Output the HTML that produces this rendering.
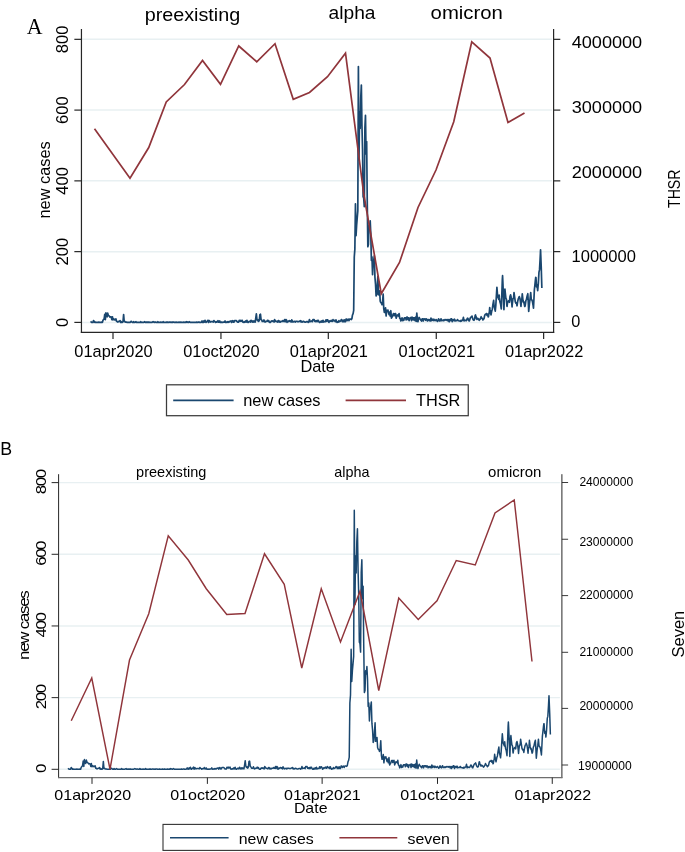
<!DOCTYPE html>
<html lang="en">
<head>
<meta charset="utf-8">
<title>New cases vs THSR and Seven</title>
<style>
html,body{margin:0;padding:0;background:#fff;}
body{width:685px;height:852px;overflow:hidden;}
svg{display:block;will-change:transform;}
text{white-space:pre;}
</style>
</head>
<body>
<svg width="685" height="852" viewBox="0 0 685 852">
<rect x="0" y="0" width="685" height="852" fill="#ffffff"/>
<g id="panelA">
<line x1="81.95" y1="322.40" x2="552.00" y2="322.40" stroke="#e8f0f2" stroke-width="1.50"/>
<line x1="81.95" y1="251.63" x2="552.00" y2="251.63" stroke="#e8f0f2" stroke-width="1.50"/>
<line x1="81.95" y1="180.87" x2="552.00" y2="180.87" stroke="#e8f0f2" stroke-width="1.50"/>
<line x1="81.95" y1="110.10" x2="552.00" y2="110.10" stroke="#e8f0f2" stroke-width="1.50"/>
<line x1="81.95" y1="39.34" x2="552.00" y2="39.34" stroke="#e8f0f2" stroke-width="1.50"/>
<path d="M90.58,321.34 L91.17,322.05 L91.76,322.40 L92.35,322.40 L92.94,322.40 L93.53,320.63 L94.12,321.34 L94.71,322.40 L95.30,322.05 L95.89,322.40 L96.48,322.40 L97.07,322.40 L97.66,322.40 L98.25,322.40 L98.84,322.05 L99.43,322.40 L100.02,322.40 L100.61,322.40 L101.20,322.40 L101.79,322.05 L102.38,322.40 L102.97,320.28 L103.56,319.57 L104.15,318.86 L104.74,314.26 L105.33,319.57 L105.92,312.85 L106.51,316.03 L107.10,316.74 L107.69,313.20 L108.28,315.32 L108.87,315.68 L109.46,316.38 L110.05,317.09 L110.64,316.74 L111.23,317.09 L111.82,319.57 L112.41,316.74 L113.00,319.92 L113.59,318.86 L114.18,319.22 L114.77,319.92 L115.36,319.57 L115.95,318.86 L116.54,321.34 L117.13,321.34 L117.72,322.05 L118.31,321.69 L118.90,321.34 L119.49,321.34 L120.08,320.63 L120.67,322.40 L121.26,321.69 L121.85,322.40 L122.44,322.40 L123.03,321.34 L123.62,314.62 L124.21,321.69 L124.80,321.34 L125.39,322.05 L125.98,322.05 L126.57,322.05 L127.16,322.40 L127.75,322.40 L128.34,322.40 L128.93,322.40 L129.52,322.40 L130.11,322.40 L130.70,321.69 L131.29,321.34 L131.88,322.05 L132.47,322.40 L133.06,322.40 L133.65,321.69 L134.24,322.40 L134.83,322.40 L135.42,322.05 L136.01,321.69 L136.60,322.40 L137.19,322.40 L137.78,322.40 L138.37,322.40 L138.96,322.40 L139.55,322.40 L140.14,322.40 L140.73,321.69 L141.32,322.40 L141.91,322.40 L142.50,322.40 L143.08,322.40 L143.67,322.40 L144.26,322.05 L144.85,321.69 L145.44,322.40 L146.03,322.40 L146.62,322.05 L147.21,322.40 L147.80,322.05 L148.39,322.40 L148.98,322.05 L149.57,322.40 L150.16,322.40 L150.75,322.40 L151.34,322.40 L151.93,322.40 L152.52,322.05 L153.11,321.69 L153.70,322.05 L154.29,322.40 L154.88,322.05 L155.47,322.05 L156.06,322.40 L156.65,322.40 L157.24,322.40 L157.83,321.69 L158.42,322.40 L159.01,322.40 L159.60,322.40 L160.19,322.40 L160.78,322.05 L161.37,322.40 L161.96,322.40 L162.55,322.40 L163.14,321.69 L163.73,322.40 L164.32,322.40 L164.91,322.40 L165.50,322.40 L166.09,322.40 L166.68,322.05 L167.27,322.40 L167.86,322.05 L168.45,322.40 L169.04,322.40 L169.63,322.05 L170.22,322.05 L170.81,322.40 L171.40,322.40 L171.99,322.05 L172.58,322.40 L173.17,322.05 L173.76,322.05 L174.35,322.40 L174.94,322.40 L175.53,322.40 L176.12,322.05 L176.71,322.40 L177.30,322.40 L177.89,322.40 L178.48,322.40 L179.07,322.05 L179.66,322.40 L180.25,322.40 L180.84,322.05 L181.43,322.40 L182.02,322.40 L182.61,322.40 L183.20,322.40 L183.79,322.05 L184.38,322.40 L184.97,322.40 L185.56,322.05 L186.15,322.40 L186.74,321.69 L187.33,322.05 L187.92,322.40 L188.51,322.40 L189.10,321.69 L189.69,322.05 L190.28,322.40 L190.87,322.40 L191.46,322.40 L192.05,322.40 L192.64,322.40 L193.23,322.40 L193.82,322.40 L194.41,322.40 L195.00,322.40 L195.59,322.40 L196.18,322.40 L196.77,322.05 L197.36,322.40 L197.95,322.40 L198.54,322.05 L199.13,322.05 L199.72,322.40 L200.31,322.40 L200.90,322.40 L201.49,322.05 L202.07,320.98 L202.66,322.40 L203.25,322.40 L203.84,320.98 L204.43,322.05 L205.02,320.28 L205.61,322.05 L206.20,322.40 L206.79,321.34 L207.38,321.34 L207.97,320.28 L208.56,322.40 L209.15,320.63 L209.74,321.34 L210.33,322.05 L210.92,321.69 L211.51,321.69 L212.10,321.69 L212.69,321.69 L213.28,322.05 L213.87,320.63 L214.46,321.34 L215.05,321.69 L215.64,322.40 L216.23,321.69 L216.82,322.05 L217.41,321.69 L218.00,320.63 L218.59,322.05 L219.18,322.05 L219.77,320.98 L220.36,322.40 L220.95,322.40 L221.54,322.05 L222.13,322.40 L222.72,322.40 L223.31,322.05 L223.90,322.05 L224.49,322.05 L225.08,320.98 L225.67,322.40 L226.26,322.40 L226.85,322.05 L227.44,321.69 L228.03,322.40 L228.62,321.69 L229.21,322.05 L229.80,321.34 L230.39,321.34 L230.98,320.98 L231.57,322.40 L232.16,320.98 L232.75,320.63 L233.34,322.05 L233.93,322.05 L234.52,320.63 L235.11,320.63 L235.70,320.63 L236.29,320.63 L236.88,321.34 L237.47,322.05 L238.06,322.05 L238.65,322.05 L239.24,320.28 L239.83,320.98 L240.42,320.28 L241.01,321.34 L241.60,320.63 L242.19,320.28 L242.78,322.05 L243.37,322.05 L243.96,322.40 L244.55,321.69 L245.14,322.05 L245.73,320.98 L246.32,322.05 L246.91,320.28 L247.50,322.05 L248.09,322.40 L248.68,322.05 L249.27,321.34 L249.86,321.34 L250.45,322.05 L251.04,320.28 L251.63,321.34 L252.22,322.05 L252.81,320.98 L253.40,322.05 L253.99,320.98 L254.58,321.69 L255.17,322.05 L255.76,318.15 L256.35,313.91 L256.94,319.22 L257.53,320.63 L258.12,319.92 L258.71,321.34 L259.30,320.28 L259.89,314.62 L260.48,314.26 L261.06,319.57 L261.65,319.92 L262.24,321.34 L262.83,321.34 L263.42,321.34 L264.01,319.92 L264.60,321.69 L265.19,322.05 L265.78,321.34 L266.37,321.34 L266.96,321.34 L267.55,320.28 L268.14,321.34 L268.73,320.63 L269.32,322.05 L269.91,322.40 L270.50,322.40 L271.09,321.34 L271.68,320.98 L272.27,321.34 L272.86,320.98 L273.45,321.34 L274.04,322.05 L274.63,319.57 L275.22,320.63 L275.81,321.34 L276.40,321.34 L276.99,321.69 L277.58,322.05 L278.17,320.63 L278.76,320.63 L279.35,322.05 L279.94,321.34 L280.53,322.05 L281.12,321.34 L281.71,321.34 L282.30,321.34 L282.89,320.63 L283.48,321.34 L284.07,321.34 L284.66,319.57 L285.25,321.69 L285.84,319.57 L286.43,319.92 L287.02,322.40 L287.61,321.34 L288.20,321.69 L288.79,320.98 L289.38,320.63 L289.97,321.34 L290.56,320.98 L291.15,322.05 L291.74,319.92 L292.33,320.98 L292.92,322.05 L293.51,321.69 L294.10,321.69 L294.69,321.34 L295.28,322.05 L295.87,321.34 L296.46,321.34 L297.05,321.34 L297.64,321.69 L298.23,321.69 L298.82,321.69 L299.41,321.34 L300.00,320.98 L300.59,320.63 L301.18,322.05 L301.77,321.34 L302.36,322.05 L302.95,321.69 L303.54,321.34 L304.13,321.69 L304.72,322.05 L305.31,322.05 L305.90,322.05 L306.49,321.69 L307.08,321.69 L307.67,321.69 L308.26,322.40 L308.85,321.69 L309.44,319.57 L310.03,321.69 L310.62,321.34 L311.21,321.34 L311.80,320.98 L312.39,321.69 L312.98,319.57 L313.57,319.92 L314.16,319.57 L314.75,321.34 L315.34,320.98 L315.93,321.69 L316.52,320.63 L317.11,321.69 L317.70,320.28 L318.29,320.28 L318.88,321.69 L319.47,322.40 L320.05,322.40 L320.64,321.34 L321.23,322.05 L321.82,320.98 L322.41,322.05 L323.00,320.28 L323.59,322.05 L324.18,321.69 L324.77,321.69 L325.36,321.69 L325.95,319.92 L326.54,321.34 L327.13,319.92 L327.72,319.92 L328.31,321.34 L328.90,322.40 L329.49,320.98 L330.08,321.34 L330.67,320.98 L331.26,320.28 L331.85,321.34 L332.44,321.34 L333.03,319.57 L333.62,320.63 L334.21,320.98 L334.80,320.28 L335.39,321.69 L335.98,319.92 L336.57,321.69 L337.16,322.40 L337.75,321.69 L338.34,322.05 L338.93,320.63 L339.52,321.69 L340.11,321.34 L340.70,320.98 L341.29,319.57 L341.88,319.92 L342.47,321.69 L343.06,320.28 L343.65,321.69 L344.24,319.92 L344.83,321.69 L345.42,321.69 L346.01,319.22 L346.60,319.22 L347.19,320.63 L347.78,319.57 L348.37,319.22 L348.96,320.63 L349.55,319.22 L350.14,319.22 L350.73,319.22 L351.32,319.57 L351.91,318.51 L352.50,314.97 L353.09,313.55 L353.68,310.37 L354.27,256.94 L354.86,249.16 L355.45,203.87 L356.04,235.71 L356.63,225.10 L357.22,218.02 L357.81,210.94 L358.40,66.58 L358.99,159.64 L359.58,111.87 L360.17,128.50 L360.76,97.72 L361.35,84.98 L361.94,125.32 L362.53,149.02 L363.12,196.79 L363.71,198.21 L364.30,206.70 L364.89,128.15 L365.48,115.41 L366.07,153.98 L366.66,141.59 L367.25,201.04 L367.84,246.68 L368.43,244.56 L369.02,225.10 L369.61,228.28 L370.20,220.85 L370.79,233.59 L371.38,260.48 L371.97,256.94 L372.56,274.63 L373.15,262.25 L373.74,260.48 L374.33,255.88 L374.92,277.11 L375.51,283.83 L376.10,295.86 L376.69,294.45 L377.28,285.60 L377.87,276.40 L378.45,294.80 L379.04,294.09 L379.63,290.91 L380.22,301.17 L380.81,302.59 L381.40,302.94 L381.99,304.71 L382.58,301.88 L383.17,294.09 L383.76,308.60 L384.35,312.49 L384.94,312.14 L385.53,307.89 L386.12,316.03 L386.71,310.37 L387.30,311.08 L387.89,310.02 L388.48,312.49 L389.07,314.62 L389.66,312.14 L390.25,316.03 L390.84,310.72 L391.43,318.15 L392.02,317.09 L392.61,316.03 L393.20,313.91 L393.79,313.55 L394.38,315.68 L394.97,313.91 L395.56,313.55 L396.15,318.15 L396.74,316.38 L397.33,314.97 L397.92,315.32 L398.51,316.03 L399.10,313.55 L399.69,318.15 L400.28,318.51 L400.87,320.98 L401.46,319.57 L402.05,317.80 L402.64,320.63 L403.23,319.22 L403.82,320.28 L404.41,317.80 L405.00,317.80 L405.59,317.80 L406.18,319.92 L406.77,317.09 L407.36,317.09 L407.95,319.57 L408.54,317.80 L409.13,320.63 L409.72,318.15 L410.31,318.15 L410.90,317.45 L411.49,320.63 L412.08,317.09 L412.67,319.57 L413.26,317.80 L413.85,319.92 L414.44,317.80 L415.03,320.63 L415.62,317.09 L416.21,321.34 L416.80,313.20 L417.39,319.22 L417.98,321.69 L418.57,318.86 L419.16,317.45 L419.75,318.86 L420.34,319.22 L420.93,320.28 L421.52,320.98 L422.11,318.86 L422.70,318.86 L423.29,320.98 L423.88,318.86 L424.47,319.22 L425.06,318.86 L425.65,320.28 L426.24,318.86 L426.83,319.22 L427.42,320.98 L428.01,319.92 L428.60,319.57 L429.19,320.63 L429.78,319.57 L430.37,320.98 L430.96,318.15 L431.55,320.63 L432.14,319.22 L432.73,319.57 L433.32,320.63 L433.91,319.22 L434.50,320.28 L435.09,320.63 L435.68,319.92 L436.27,319.57 L436.86,320.63 L437.44,321.34 L438.03,320.63 L438.62,318.86 L439.21,320.28 L439.80,320.98 L440.39,319.92 L440.98,318.86 L441.57,320.63 L442.16,320.28 L442.75,320.63 L443.34,319.92 L443.93,320.63 L444.52,319.92 L445.11,319.57 L445.70,319.92 L446.29,320.28 L446.88,319.57 L447.47,319.57 L448.06,320.98 L448.65,319.57 L449.24,321.69 L449.83,319.57 L450.42,320.63 L451.01,318.86 L451.60,318.86 L452.19,321.69 L452.78,319.92 L453.37,319.57 L453.96,320.63 L454.55,319.22 L455.14,320.98 L455.73,320.63 L456.32,320.63 L456.91,320.63 L457.50,319.57 L458.09,320.63 L458.68,320.63 L459.27,320.98 L459.86,320.98 L460.45,321.34 L461.04,320.28 L461.63,320.98 L462.22,320.28 L462.81,319.92 L463.40,317.45 L463.99,320.98 L464.58,319.92 L465.17,320.28 L465.76,320.63 L466.35,320.63 L466.94,319.22 L467.53,318.15 L468.12,318.86 L468.71,320.63 L469.30,320.98 L470.01,318.86 L470.48,317.65 L471.07,316.95 L471.66,316.73 L471.95,316.03 L472.25,317.08 L472.84,319.05 L473.43,320.02 L473.96,320.28 L474.61,319.13 L475.20,315.29 L475.49,314.97 L475.79,316.37 L476.38,317.91 L476.97,319.36 L477.20,318.86 L477.56,318.31 L478.15,318.68 L478.74,319.57 L479.21,320.28 L479.92,319.51 L480.51,318.58 L481.16,316.74 L481.69,318.04 L482.28,318.42 L482.87,319.96 L483.16,319.57 L483.46,319.15 L484.05,318.54 L484.64,315.56 L485.23,314.34 L485.82,314.50 L486.41,313.55 L487.00,315.31 L487.59,314.02 L488.18,316.91 L488.41,316.74 L488.77,314.69 L489.36,312.04 L489.71,307.54 L489.95,309.39 L490.54,312.36 L491.01,314.97 L491.72,311.09 L492.31,309.19 L492.90,304.63 L493.66,300.46 L494.08,305.80 L494.67,308.21 L495.26,311.08 L495.85,304.80 L496.44,294.83 L496.91,287.37 L497.61,296.15 L498.26,297.99 L498.79,299.38 L499.15,295.16 L499.38,297.94 L499.97,302.05 L500.56,303.93 L501.27,308.95 L501.74,296.67 L502.33,279.46 L502.57,275.69 L502.92,283.20 L503.51,298.04 L503.93,309.66 L504.69,291.36 L504.93,289.14 L505.28,292.92 L505.87,298.20 L506.46,299.45 L506.82,305.06 L507.05,306.29 L507.64,302.09 L508.23,301.19 L508.76,300.82 L509.41,302.27 L510.00,296.43 L510.59,294.89 L511.01,296.57 L511.77,303.33 L512.07,306.83 L512.36,303.53 L512.95,298.61 L513.54,298.45 L514.01,292.68 L514.72,297.55 L515.31,301.88 L515.90,303.20 L516.49,302.89 L517.02,305.77 L517.67,301.51 L518.26,298.83 L518.85,297.75 L519.26,296.57 L520.03,298.80 L520.62,303.51 L520.97,306.48 L521.21,303.18 L521.80,300.02 L522.27,293.74 L522.98,300.30 L523.57,302.47 L523.87,301.88 L524.16,303.50 L524.75,306.50 L525.16,305.77 L525.93,300.49 L526.52,299.28 L527.11,296.14 L527.82,293.74 L528.29,302.52 L528.70,311.43 L529.47,303.35 L530.06,298.81 L530.71,292.68 L531.24,299.44 L531.77,299.75 L532.42,301.41 L533.01,304.73 L533.48,308.25 L534.37,289.85 L534.78,286.05 L535.37,280.37 L535.72,277.46 L535.96,277.53 L536.55,286.86 L537.14,285.06 L537.67,290.56 L538.32,283.62 L538.97,272.16 L539.50,269.90 L540.09,259.67 L540.56,249.86 L541.27,268.17 L541.86,288.08" fill="none" stroke="#1a476f" stroke-width="1.7" stroke-linejoin="round"/>
<path d="M94.50,128.75 L130.00,178.25 L148.75,147.50 L166.25,102.00 L184.50,84.50 L202.50,60.50 L220.50,84.25 L238.75,46.00 L256.75,61.75 L275.00,43.75 L293.25,99.25 L309.50,92.50 L327.50,76.75 L345.50,53.25 L363.90,195.00 L381.25,293.75 L399.50,262.50 L418.00,207.50 L436.00,170.00 L453.75,121.75 L471.75,41.75 L490.00,58.00 L508.00,122.50 L524.50,113.00" fill="none" stroke="#90353b" stroke-width="1.7" stroke-linejoin="miter"/>
<line x1="81.45" y1="28.90" x2="81.45" y2="332.90" stroke="#262626" stroke-width="1.20"/>
<line x1="553.60" y1="28.90" x2="553.60" y2="332.90" stroke="#262626" stroke-width="1.20"/>
<line x1="80.85" y1="332.30" x2="554.20" y2="332.30" stroke="#262626" stroke-width="1.20"/>
<line x1="74.35" y1="322.40" x2="81.45" y2="322.40" stroke="#262626" stroke-width="1.20"/>
<line x1="553.60" y1="322.40" x2="560.30" y2="322.40" stroke="#262626" stroke-width="1.20"/>
<line x1="74.35" y1="251.63" x2="81.45" y2="251.63" stroke="#262626" stroke-width="1.20"/>
<line x1="553.60" y1="251.63" x2="560.30" y2="251.63" stroke="#262626" stroke-width="1.20"/>
<line x1="74.35" y1="180.87" x2="81.45" y2="180.87" stroke="#262626" stroke-width="1.20"/>
<line x1="553.60" y1="180.87" x2="560.30" y2="180.87" stroke="#262626" stroke-width="1.20"/>
<line x1="74.35" y1="110.10" x2="81.45" y2="110.10" stroke="#262626" stroke-width="1.20"/>
<line x1="553.60" y1="110.10" x2="560.30" y2="110.10" stroke="#262626" stroke-width="1.20"/>
<line x1="74.35" y1="39.34" x2="81.45" y2="39.34" stroke="#262626" stroke-width="1.20"/>
<line x1="553.60" y1="39.34" x2="560.30" y2="39.34" stroke="#262626" stroke-width="1.20"/>
<line x1="113.00" y1="332.30" x2="113.00" y2="338.90" stroke="#262626" stroke-width="1.20"/>
<line x1="220.95" y1="332.30" x2="220.95" y2="338.90" stroke="#262626" stroke-width="1.20"/>
<line x1="328.31" y1="332.30" x2="328.31" y2="338.90" stroke="#262626" stroke-width="1.20"/>
<line x1="436.27" y1="332.30" x2="436.27" y2="338.90" stroke="#262626" stroke-width="1.20"/>
<line x1="543.63" y1="332.30" x2="543.63" y2="338.90" stroke="#262626" stroke-width="1.20"/>
<text transform="translate(68.00,322.40) rotate(-90)" font-family="'Liberation Sans', Arial, sans-serif" font-size="16.60" text-anchor="middle" fill="#000">0</text>
<text transform="translate(68.00,251.63) rotate(-90)" font-family="'Liberation Sans', Arial, sans-serif" font-size="16.60" text-anchor="middle" fill="#000">200</text>
<text transform="translate(68.00,180.87) rotate(-90)" font-family="'Liberation Sans', Arial, sans-serif" font-size="16.60" text-anchor="middle" fill="#000">400</text>
<text transform="translate(68.00,110.10) rotate(-90)" font-family="'Liberation Sans', Arial, sans-serif" font-size="16.60" text-anchor="middle" fill="#000">600</text>
<text transform="translate(68.00,39.34) rotate(-90)" font-family="'Liberation Sans', Arial, sans-serif" font-size="16.60" text-anchor="middle" fill="#000">800</text>
<text transform="translate(50.40,179.90) rotate(-90)" font-family="'Liberation Sans', Arial, sans-serif" font-size="16.60" text-anchor="middle" fill="#000" textLength="77.30" lengthAdjust="spacingAndGlyphs">new cases</text>
<text x="113.50" y="356.60" font-family="'Liberation Sans', Arial, sans-serif" font-size="16.30" text-anchor="middle" fill="#000" textLength="78.31" lengthAdjust="spacingAndGlyphs">01apr2020</text>
<text x="221.45" y="356.60" font-family="'Liberation Sans', Arial, sans-serif" font-size="16.30" text-anchor="middle" fill="#000" textLength="76.49" lengthAdjust="spacingAndGlyphs">01oct2020</text>
<text x="328.81" y="356.60" font-family="'Liberation Sans', Arial, sans-serif" font-size="16.30" text-anchor="middle" fill="#000" textLength="78.31" lengthAdjust="spacingAndGlyphs">01apr2021</text>
<text x="436.77" y="356.60" font-family="'Liberation Sans', Arial, sans-serif" font-size="16.30" text-anchor="middle" fill="#000" textLength="76.49" lengthAdjust="spacingAndGlyphs">01oct2021</text>
<text x="544.13" y="356.60" font-family="'Liberation Sans', Arial, sans-serif" font-size="16.30" text-anchor="middle" fill="#000" textLength="78.31" lengthAdjust="spacingAndGlyphs">01apr2022</text>
<text x="317.70" y="372.30" font-family="'Liberation Sans', Arial, sans-serif" font-size="16.40" text-anchor="middle" fill="#000" textLength="34.59" lengthAdjust="spacingAndGlyphs">Date</text>
<rect x="166.5" y="384.8" width="301.75" height="30.9" fill="#fff" stroke="#3c3c3c" stroke-width="1.25"/>
<line x1="173.20" y1="400.40" x2="233.60" y2="400.40" stroke="#1a476f" stroke-width="1.70"/>
<text x="243.20" y="405.90" font-family="'Liberation Sans', Arial, sans-serif" font-size="16.50" text-anchor="start" fill="#000" textLength="77.38" lengthAdjust="spacingAndGlyphs">new cases</text>
<line x1="345.60" y1="400.40" x2="406.00" y2="400.40" stroke="#90353b" stroke-width="1.70"/>
<text x="416.00" y="405.90" font-family="'Liberation Sans', Arial, sans-serif" font-size="16.50" text-anchor="start" fill="#000" textLength="44.40" lengthAdjust="spacingAndGlyphs">THSR</text>
<text x="571.70" y="48.10" font-family="'Liberation Sans', Arial, sans-serif" font-size="16.30" text-anchor="start" fill="#000" textLength="70.50" lengthAdjust="spacingAndGlyphs">4000000</text>
<text x="571.70" y="112.80" font-family="'Liberation Sans', Arial, sans-serif" font-size="16.30" text-anchor="start" fill="#000" textLength="70.50" lengthAdjust="spacingAndGlyphs">3000000</text>
<text x="571.70" y="177.70" font-family="'Liberation Sans', Arial, sans-serif" font-size="16.30" text-anchor="start" fill="#000" textLength="70.50" lengthAdjust="spacingAndGlyphs">2000000</text>
<text x="571.50" y="261.60" font-family="'Liberation Sans', Arial, sans-serif" font-size="16.30" text-anchor="start" fill="#000" textLength="64.40" lengthAdjust="spacingAndGlyphs">1000000</text>
<text x="571.30" y="326.70" font-family="'Liberation Sans', Arial, sans-serif" font-size="16.30" text-anchor="start" fill="#000">0</text>
<text transform="translate(679.60,188.75) rotate(-90)" font-family="'Liberation Sans', Arial, sans-serif" font-size="16.80" text-anchor="middle" fill="#000" textLength="38.50" lengthAdjust="spacingAndGlyphs">THSR</text>
<text x="26.70" y="33.75" font-family="'Liberation Serif', 'Times New Roman', serif" font-size="22.20" text-anchor="start" fill="#000" textLength="15.80" lengthAdjust="spacingAndGlyphs">A</text>
<text x="144.70" y="20.60" font-family="'Liberation Sans', Arial, sans-serif" font-size="18.60" text-anchor="start" fill="#000" textLength="95.50" lengthAdjust="spacingAndGlyphs">preexisting</text>
<text x="328.60" y="19.20" font-family="'Liberation Sans', Arial, sans-serif" font-size="18.30" text-anchor="start" fill="#000" textLength="46.90" lengthAdjust="spacingAndGlyphs">alpha</text>
<text x="430.60" y="18.90" font-family="'Liberation Sans', Arial, sans-serif" font-size="18.10" text-anchor="start" fill="#000" textLength="72.30" lengthAdjust="spacingAndGlyphs">omicron</text>
</g>
<g id="panelB">
<line x1="59.10" y1="769.30" x2="559.90" y2="769.30" stroke="#e8f0f2" stroke-width="1.40"/>
<line x1="59.10" y1="697.63" x2="559.90" y2="697.63" stroke="#e8f0f2" stroke-width="1.40"/>
<line x1="59.10" y1="625.96" x2="559.90" y2="625.96" stroke="#e8f0f2" stroke-width="1.40"/>
<line x1="59.10" y1="554.29" x2="559.90" y2="554.29" stroke="#e8f0f2" stroke-width="1.40"/>
<line x1="59.10" y1="482.62" x2="559.90" y2="482.62" stroke="#e8f0f2" stroke-width="1.40"/>
<path d="M68.04,768.22 L68.67,768.94 L69.30,769.30 L69.93,769.30 L70.56,769.30 L71.19,767.51 L71.82,768.22 L72.45,769.30 L73.09,768.94 L73.72,769.30 L74.35,769.30 L74.98,769.30 L75.61,769.30 L76.24,769.30 L76.87,768.94 L77.50,769.30 L78.13,769.30 L78.76,769.30 L79.39,769.30 L80.02,768.94 L80.65,769.30 L81.28,767.15 L81.91,766.43 L82.54,765.72 L83.17,761.06 L83.80,766.43 L84.43,759.62 L85.06,762.85 L85.69,763.57 L86.33,759.98 L86.96,762.13 L87.59,762.49 L88.22,763.21 L88.85,763.92 L89.48,763.57 L90.11,763.92 L90.74,766.43 L91.37,763.57 L92.00,766.79 L92.63,765.72 L93.26,766.07 L93.89,766.79 L94.52,766.43 L95.15,765.72 L95.78,768.22 L96.41,768.22 L97.04,768.94 L97.67,768.58 L98.31,768.22 L98.94,768.22 L99.57,767.51 L100.20,769.30 L100.83,768.58 L101.46,769.30 L102.09,769.30 L102.72,768.22 L103.35,761.42 L103.98,768.58 L104.61,768.22 L105.24,768.94 L105.87,768.94 L106.50,768.94 L107.13,769.30 L107.76,769.30 L108.39,769.30 L109.02,769.30 L109.65,769.30 L110.28,769.30 L110.91,768.58 L111.55,768.22 L112.18,768.94 L112.81,769.30 L113.44,769.30 L114.07,768.58 L114.70,769.30 L115.33,769.30 L115.96,768.94 L116.59,768.58 L117.22,769.30 L117.85,769.30 L118.48,769.30 L119.11,769.30 L119.74,769.30 L120.37,769.30 L121.00,769.30 L121.63,768.58 L122.26,769.30 L122.89,769.30 L123.53,769.30 L124.16,769.30 L124.79,769.30 L125.42,768.94 L126.05,768.58 L126.68,769.30 L127.31,769.30 L127.94,768.94 L128.57,769.30 L129.20,768.94 L129.83,769.30 L130.46,768.94 L131.09,769.30 L131.72,769.30 L132.35,769.30 L132.98,769.30 L133.61,769.30 L134.24,768.94 L134.87,768.58 L135.50,768.94 L136.13,769.30 L136.77,768.94 L137.40,768.94 L138.03,769.30 L138.66,769.30 L139.29,769.30 L139.92,768.58 L140.55,769.30 L141.18,769.30 L141.81,769.30 L142.44,769.30 L143.07,768.94 L143.70,769.30 L144.33,769.30 L144.96,769.30 L145.59,768.58 L146.22,769.30 L146.85,769.30 L147.48,769.30 L148.11,769.30 L148.75,769.30 L149.38,768.94 L150.01,769.30 L150.64,768.94 L151.27,769.30 L151.90,769.30 L152.53,768.94 L153.16,768.94 L153.79,769.30 L154.42,769.30 L155.05,768.94 L155.68,769.30 L156.31,768.94 L156.94,768.94 L157.57,769.30 L158.20,769.30 L158.83,769.30 L159.46,768.94 L160.09,769.30 L160.72,769.30 L161.35,769.30 L161.99,769.30 L162.62,768.94 L163.25,769.30 L163.88,769.30 L164.51,768.94 L165.14,769.30 L165.77,769.30 L166.40,769.30 L167.03,769.30 L167.66,768.94 L168.29,769.30 L168.92,769.30 L169.55,768.94 L170.18,769.30 L170.81,768.58 L171.44,768.94 L172.07,769.30 L172.70,769.30 L173.33,768.58 L173.96,768.94 L174.60,769.30 L175.23,769.30 L175.86,769.30 L176.49,769.30 L177.12,769.30 L177.75,769.30 L178.38,769.30 L179.01,769.30 L179.64,769.30 L180.27,769.30 L180.90,769.30 L181.53,768.94 L182.16,769.30 L182.79,769.30 L183.42,768.94 L184.05,768.94 L184.68,769.30 L185.31,769.30 L185.94,769.30 L186.57,768.94 L187.21,767.87 L187.84,769.30 L188.47,769.30 L189.10,767.87 L189.73,768.94 L190.36,767.15 L190.99,768.94 L191.62,769.30 L192.25,768.22 L192.88,768.22 L193.51,767.15 L194.14,769.30 L194.77,767.51 L195.40,768.22 L196.03,768.94 L196.66,768.58 L197.29,768.58 L197.92,768.58 L198.55,768.58 L199.19,768.94 L199.82,767.51 L200.45,768.22 L201.08,768.58 L201.71,769.30 L202.34,768.58 L202.97,768.94 L203.60,768.58 L204.23,767.51 L204.86,768.94 L205.49,768.94 L206.12,767.87 L206.75,769.30 L207.38,769.30 L208.01,768.94 L208.64,769.30 L209.27,769.30 L209.90,768.94 L210.53,768.94 L211.16,768.94 L211.79,767.87 L212.43,769.30 L213.06,769.30 L213.69,768.94 L214.32,768.58 L214.95,769.30 L215.58,768.58 L216.21,768.94 L216.84,768.22 L217.47,768.22 L218.10,767.87 L218.73,769.30 L219.36,767.87 L219.99,767.51 L220.62,768.94 L221.25,768.94 L221.88,767.51 L222.51,767.51 L223.14,767.51 L223.77,767.51 L224.41,768.22 L225.04,768.94 L225.67,768.94 L226.30,768.94 L226.93,767.15 L227.56,767.87 L228.19,767.15 L228.82,768.22 L229.45,767.51 L230.08,767.15 L230.71,768.94 L231.34,768.94 L231.97,769.30 L232.60,768.58 L233.23,768.94 L233.86,767.87 L234.49,768.94 L235.12,767.15 L235.75,768.94 L236.38,769.30 L237.01,768.94 L237.65,768.22 L238.28,768.22 L238.91,768.94 L239.54,767.15 L240.17,768.22 L240.80,768.94 L241.43,767.87 L242.06,768.94 L242.69,767.87 L243.32,768.58 L243.95,768.94 L244.58,765.00 L245.21,760.70 L245.84,766.07 L246.47,767.51 L247.10,766.79 L247.73,768.22 L248.36,767.15 L248.99,761.42 L249.62,761.06 L250.26,766.43 L250.89,766.79 L251.52,768.22 L252.15,768.22 L252.78,768.22 L253.41,766.79 L254.04,768.58 L254.67,768.94 L255.30,768.22 L255.93,768.22 L256.56,768.22 L257.19,767.15 L257.82,768.22 L258.45,767.51 L259.08,768.94 L259.71,769.30 L260.34,769.30 L260.97,768.22 L261.60,767.87 L262.24,768.22 L262.87,767.87 L263.50,768.22 L264.13,768.94 L264.76,766.43 L265.39,767.51 L266.02,768.22 L266.65,768.22 L267.28,768.58 L267.91,768.94 L268.54,767.51 L269.17,767.51 L269.80,768.94 L270.43,768.22 L271.06,768.94 L271.69,768.22 L272.32,768.22 L272.95,768.22 L273.58,767.51 L274.21,768.22 L274.85,768.22 L275.48,766.43 L276.11,768.58 L276.74,766.43 L277.37,766.79 L278.00,769.30 L278.63,768.22 L279.26,768.58 L279.89,767.87 L280.52,767.51 L281.15,768.22 L281.78,767.87 L282.41,768.94 L283.04,766.79 L283.67,767.87 L284.30,768.94 L284.93,768.58 L285.56,768.58 L286.19,768.22 L286.82,768.94 L287.45,768.22 L288.09,768.22 L288.72,768.22 L289.35,768.58 L289.98,768.58 L290.61,768.58 L291.24,768.22 L291.87,767.87 L292.50,767.51 L293.13,768.94 L293.76,768.22 L294.39,768.94 L295.02,768.58 L295.65,768.22 L296.28,768.58 L296.91,768.94 L297.54,768.94 L298.17,768.94 L298.80,768.58 L299.43,768.58 L300.06,768.58 L300.70,769.30 L301.33,768.58 L301.96,766.43 L302.59,768.58 L303.22,768.22 L303.85,768.22 L304.48,767.87 L305.11,768.58 L305.74,766.43 L306.37,766.79 L307.00,766.43 L307.63,768.22 L308.26,767.87 L308.89,768.58 L309.52,767.51 L310.15,768.58 L310.78,767.15 L311.41,767.15 L312.04,768.58 L312.67,769.30 L313.31,769.30 L313.94,768.22 L314.57,768.94 L315.20,767.87 L315.83,768.94 L316.46,767.15 L317.09,768.94 L317.72,768.58 L318.35,768.58 L318.98,768.58 L319.61,766.79 L320.24,768.22 L320.87,766.79 L321.50,766.79 L322.13,768.22 L322.76,769.30 L323.39,767.87 L324.02,768.22 L324.65,767.87 L325.28,767.15 L325.92,768.22 L326.55,768.22 L327.18,766.43 L327.81,767.51 L328.44,767.87 L329.07,767.15 L329.70,768.58 L330.33,766.79 L330.96,768.58 L331.59,769.30 L332.22,768.58 L332.85,768.94 L333.48,767.51 L334.11,768.58 L334.74,768.22 L335.37,767.87 L336.00,766.43 L336.63,766.79 L337.26,768.58 L337.89,767.15 L338.53,768.58 L339.16,766.79 L339.79,768.58 L340.42,768.58 L341.05,766.07 L341.68,766.07 L342.31,767.51 L342.94,766.43 L343.57,766.07 L344.20,767.51 L344.83,766.07 L345.46,766.07 L346.09,766.07 L346.72,766.43 L347.35,765.36 L347.98,761.77 L348.61,760.34 L349.24,757.12 L349.87,703.01 L350.50,695.12 L351.14,649.25 L351.77,681.50 L352.40,670.75 L353.03,663.59 L353.66,656.42 L354.29,510.21 L354.92,604.46 L355.55,556.08 L356.18,572.92 L356.81,541.75 L357.44,528.85 L358.07,569.70 L358.70,593.71 L359.33,642.09 L359.96,643.52 L360.59,652.12 L361.22,572.57 L361.85,559.67 L362.48,598.73 L363.11,586.18 L363.75,646.39 L364.38,692.61 L365.01,690.46 L365.64,670.75 L366.27,673.98 L366.90,666.45 L367.53,679.35 L368.16,706.59 L368.79,703.01 L369.42,720.92 L370.05,708.38 L370.68,706.59 L371.31,701.93 L371.94,723.43 L372.57,730.24 L373.20,742.42 L373.83,740.99 L374.46,732.03 L375.09,722.71 L375.72,741.35 L376.36,740.63 L376.99,737.41 L377.62,747.80 L378.25,749.23 L378.88,749.59 L379.51,751.38 L380.14,748.52 L380.77,740.63 L381.40,755.32 L382.03,759.27 L382.66,758.91 L383.29,754.61 L383.92,762.85 L384.55,757.12 L385.18,757.83 L385.81,756.76 L386.44,759.27 L387.07,761.42 L387.70,758.91 L388.33,762.85 L388.97,757.47 L389.60,765.00 L390.23,763.92 L390.86,762.85 L391.49,760.70 L392.12,760.34 L392.75,762.49 L393.38,760.70 L394.01,760.34 L394.64,765.00 L395.27,763.21 L395.90,761.77 L396.53,762.13 L397.16,762.85 L397.79,760.34 L398.42,765.00 L399.05,765.36 L399.68,767.87 L400.31,766.43 L400.94,764.64 L401.58,767.51 L402.21,766.07 L402.84,767.15 L403.47,764.64 L404.10,764.64 L404.73,764.64 L405.36,766.79 L405.99,763.92 L406.62,763.92 L407.25,766.43 L407.88,764.64 L408.51,767.51 L409.14,765.00 L409.77,765.00 L410.40,764.28 L411.03,767.51 L411.66,763.92 L412.29,766.43 L412.92,764.64 L413.55,766.79 L414.19,764.64 L414.82,767.51 L415.45,763.92 L416.08,768.22 L416.71,759.98 L417.34,766.07 L417.97,768.58 L418.60,765.72 L419.23,764.28 L419.86,765.72 L420.49,766.07 L421.12,767.15 L421.75,767.87 L422.38,765.72 L423.01,765.72 L423.64,767.87 L424.27,765.72 L424.90,766.07 L425.53,765.72 L426.16,767.15 L426.80,765.72 L427.43,766.07 L428.06,767.87 L428.69,766.79 L429.32,766.43 L429.95,767.51 L430.58,766.43 L431.21,767.87 L431.84,765.00 L432.47,767.51 L433.10,766.07 L433.73,766.43 L434.36,767.51 L434.99,766.07 L435.62,767.15 L436.25,767.51 L436.88,766.79 L437.51,766.43 L438.14,767.51 L438.77,768.22 L439.41,767.51 L440.04,765.72 L440.67,767.15 L441.30,767.87 L441.93,766.79 L442.56,765.72 L443.19,767.51 L443.82,767.15 L444.45,767.51 L445.08,766.79 L445.71,767.51 L446.34,766.79 L446.97,766.43 L447.60,766.79 L448.23,767.15 L448.86,766.43 L449.49,766.43 L450.12,767.87 L450.75,766.43 L451.38,768.58 L452.02,766.43 L452.65,767.51 L453.28,765.72 L453.91,765.72 L454.54,768.58 L455.17,766.79 L455.80,766.43 L456.43,767.51 L457.06,766.07 L457.69,767.87 L458.32,767.51 L458.95,767.51 L459.58,767.51 L460.21,766.43 L460.84,767.51 L461.47,767.51 L462.10,767.87 L462.73,767.87 L463.36,768.22 L463.99,767.15 L464.63,767.87 L465.26,767.15 L465.89,766.79 L466.52,764.28 L467.15,767.87 L467.78,766.79 L468.41,767.15 L469.04,767.51 L469.67,767.51 L470.30,766.07 L470.93,765.00 L471.56,765.72 L472.19,767.51 L472.82,767.87 L473.58,765.72 L474.08,764.49 L474.71,763.78 L475.34,763.56 L475.66,762.85 L475.97,763.91 L476.60,765.91 L477.24,766.89 L477.80,767.15 L478.50,765.99 L479.13,762.10 L479.44,761.77 L479.76,763.19 L480.39,764.75 L481.02,766.23 L481.27,765.72 L481.65,765.15 L482.28,765.53 L482.91,766.43 L483.41,767.15 L484.17,766.37 L484.80,765.43 L485.50,763.57 L486.06,764.88 L486.69,765.27 L487.32,766.83 L487.64,766.43 L487.95,766.01 L488.58,765.39 L489.21,762.37 L489.85,761.14 L490.48,761.30 L491.11,760.34 L491.74,762.12 L492.37,760.81 L493.00,763.74 L493.25,763.57 L493.63,761.50 L494.26,758.81 L494.64,754.25 L494.89,756.12 L495.52,759.13 L496.02,761.77 L496.78,757.85 L497.41,755.92 L498.04,751.30 L498.86,747.08 L499.30,752.49 L499.93,754.93 L500.56,757.83 L501.19,751.47 L501.82,741.38 L502.33,733.82 L503.09,742.72 L503.78,744.57 L504.35,745.98 L504.73,741.71 L504.98,744.53 L505.61,748.69 L506.24,750.59 L507.00,755.68 L507.50,743.25 L508.13,725.82 L508.38,722.00 L508.76,729.60 L509.39,744.63 L509.83,756.40 L510.65,737.86 L510.90,735.62 L511.28,739.45 L511.91,744.79 L512.54,746.05 L512.92,751.74 L513.17,752.99 L513.80,748.73 L514.43,747.82 L515.00,747.44 L515.70,748.91 L516.33,743.00 L516.96,741.44 L517.40,743.14 L518.22,749.99 L518.53,753.53 L518.85,750.19 L519.48,745.21 L520.11,745.05 L520.61,739.20 L521.37,744.13 L522.00,748.52 L522.63,749.85 L523.26,749.54 L523.83,752.46 L524.52,748.14 L525.15,745.43 L525.78,744.34 L526.23,743.14 L527.04,745.40 L527.68,750.17 L528.05,753.17 L528.31,749.84 L528.94,746.63 L529.44,740.27 L530.20,746.92 L530.83,749.12 L531.14,748.52 L531.46,750.16 L532.09,753.20 L532.53,752.46 L533.35,747.11 L533.98,745.88 L534.61,742.70 L535.37,740.27 L535.87,749.16 L536.31,758.19 L537.13,750.01 L537.76,745.41 L538.46,739.20 L539.02,746.04 L539.59,746.37 L540.29,748.04 L540.92,751.40 L541.42,754.97 L542.37,736.33 L542.81,732.49 L543.44,726.73 L543.82,723.79 L544.07,723.85 L544.70,733.31 L545.33,731.48 L545.90,737.05 L546.59,730.03 L547.28,718.41 L547.85,716.13 L548.48,705.77 L548.99,695.84 L549.74,714.38 L550.37,734.54" fill="none" stroke="#1a476f" stroke-width="1.5" stroke-linejoin="round"/>
<path d="M71.25,720.75 L91.75,678.00 L110.00,769.25 L129.50,660.00 L148.75,613.75 L168.25,535.75 L188.25,560.00 L206.25,588.75 L226.75,614.50 L245.00,613.50 L264.50,553.75 L284.25,584.25 L301.75,668.00 L321.25,588.75 L340.50,642.00 L360.00,591.25 L378.75,690.50 L398.75,598.00 L418.25,619.50 L437.00,600.75 L456.25,560.50 L475.25,565.00 L495.00,513.00 L514.25,500.00 L532.00,661.50" fill="none" stroke="#90353b" stroke-width="1.45" stroke-linejoin="miter"/>
<line x1="58.60" y1="474.20" x2="58.60" y2="778.10" stroke="#262626" stroke-width="1.00"/>
<line x1="561.90" y1="474.20" x2="561.90" y2="778.10" stroke="#262626" stroke-width="1.00"/>
<line x1="58.10" y1="777.60" x2="562.40" y2="777.60" stroke="#6e6e6e" stroke-width="1.10"/>
<line x1="51.60" y1="769.30" x2="58.60" y2="769.30" stroke="#262626" stroke-width="1.00"/>
<line x1="51.60" y1="697.63" x2="58.60" y2="697.63" stroke="#262626" stroke-width="1.00"/>
<line x1="51.60" y1="625.96" x2="58.60" y2="625.96" stroke="#262626" stroke-width="1.00"/>
<line x1="51.60" y1="554.29" x2="58.60" y2="554.29" stroke="#262626" stroke-width="1.00"/>
<line x1="51.60" y1="482.62" x2="58.60" y2="482.62" stroke="#262626" stroke-width="1.00"/>
<line x1="561.90" y1="482.50" x2="568.10" y2="482.50" stroke="#262626" stroke-width="0.90"/>
<line x1="561.90" y1="539.25" x2="568.10" y2="539.25" stroke="#262626" stroke-width="0.90"/>
<line x1="561.90" y1="595.60" x2="568.10" y2="595.60" stroke="#262626" stroke-width="0.90"/>
<line x1="561.90" y1="652.30" x2="568.10" y2="652.30" stroke="#262626" stroke-width="0.90"/>
<line x1="561.90" y1="708.40" x2="568.10" y2="708.40" stroke="#262626" stroke-width="0.90"/>
<line x1="561.90" y1="765.00" x2="568.10" y2="765.00" stroke="#262626" stroke-width="0.90"/>
<line x1="92.00" y1="777.60" x2="92.00" y2="783.90" stroke="#262626" stroke-width="1.00"/>
<line x1="207.38" y1="777.60" x2="207.38" y2="783.90" stroke="#262626" stroke-width="1.00"/>
<line x1="322.13" y1="777.60" x2="322.13" y2="783.90" stroke="#262626" stroke-width="1.00"/>
<line x1="437.51" y1="777.60" x2="437.51" y2="783.90" stroke="#262626" stroke-width="1.00"/>
<line x1="552.26" y1="777.60" x2="552.26" y2="783.90" stroke="#262626" stroke-width="1.00"/>
<text transform="translate(46.30,768.90) rotate(-90) scale(1.180,1)" font-family="'Liberation Sans', Arial, sans-serif" font-size="14.30" text-anchor="middle" fill="#000" letter-spacing="-1.20">0</text>
<text transform="translate(46.30,697.23) rotate(-90) scale(1.180,1)" font-family="'Liberation Sans', Arial, sans-serif" font-size="14.30" text-anchor="middle" fill="#000" letter-spacing="-1.20">200</text>
<text transform="translate(46.30,625.56) rotate(-90) scale(1.180,1)" font-family="'Liberation Sans', Arial, sans-serif" font-size="14.30" text-anchor="middle" fill="#000" letter-spacing="-1.20">400</text>
<text transform="translate(46.30,553.89) rotate(-90) scale(1.180,1)" font-family="'Liberation Sans', Arial, sans-serif" font-size="14.30" text-anchor="middle" fill="#000" letter-spacing="-1.20">600</text>
<text transform="translate(46.30,482.22) rotate(-90) scale(1.180,1)" font-family="'Liberation Sans', Arial, sans-serif" font-size="14.30" text-anchor="middle" fill="#000" letter-spacing="-1.20">800</text>
<text transform="translate(29.30,625.70) rotate(-90) scale(1.180,1)" font-family="'Liberation Sans', Arial, sans-serif" font-size="14.30" text-anchor="middle" fill="#000" letter-spacing="-1.05">new cases</text>
<text x="92.70" y="800.10" font-family="'Liberation Sans', Arial, sans-serif" font-size="14.50" text-anchor="middle" fill="#000" textLength="76.74" lengthAdjust="spacingAndGlyphs">01apr2020</text>
<text x="207.60" y="800.10" font-family="'Liberation Sans', Arial, sans-serif" font-size="14.50" text-anchor="middle" fill="#000" textLength="74.95" lengthAdjust="spacingAndGlyphs">01oct2020</text>
<text x="322.40" y="800.10" font-family="'Liberation Sans', Arial, sans-serif" font-size="14.50" text-anchor="middle" fill="#000" textLength="76.74" lengthAdjust="spacingAndGlyphs">01apr2021</text>
<text x="437.70" y="800.10" font-family="'Liberation Sans', Arial, sans-serif" font-size="14.50" text-anchor="middle" fill="#000" textLength="74.95" lengthAdjust="spacingAndGlyphs">01oct2021</text>
<text x="552.80" y="800.10" font-family="'Liberation Sans', Arial, sans-serif" font-size="14.50" text-anchor="middle" fill="#000" textLength="76.74" lengthAdjust="spacingAndGlyphs">01apr2022</text>
<text x="310.70" y="813.10" font-family="'Liberation Sans', Arial, sans-serif" font-size="14.50" text-anchor="middle" fill="#000" textLength="33.60" lengthAdjust="spacingAndGlyphs">Date</text>
<rect x="163.0" y="824.4" width="294.8" height="26.0" fill="#fff" stroke="#333" stroke-width="1.1"/>
<line x1="170.00" y1="837.80" x2="228.60" y2="837.80" stroke="#1a476f" stroke-width="1.60"/>
<text x="238.80" y="843.60" font-family="'Liberation Sans', Arial, sans-serif" font-size="14.20" text-anchor="start" fill="#000" textLength="75.00" lengthAdjust="spacingAndGlyphs">new cases</text>
<line x1="339.40" y1="837.80" x2="397.30" y2="837.80" stroke="#90353b" stroke-width="1.60"/>
<text x="407.50" y="843.60" font-family="'Liberation Sans', Arial, sans-serif" font-size="14.20" text-anchor="start" fill="#000" textLength="42.40" lengthAdjust="spacingAndGlyphs">seven</text>
<text x="579.40" y="486.20" font-family="'Liberation Sans', Arial, sans-serif" font-size="12.20" text-anchor="start" fill="#000" textLength="53.80" lengthAdjust="spacingAndGlyphs">24000000</text>
<text x="579.40" y="545.60" font-family="'Liberation Sans', Arial, sans-serif" font-size="12.20" text-anchor="start" fill="#000" textLength="53.80" lengthAdjust="spacingAndGlyphs">23000000</text>
<text x="579.40" y="599.10" font-family="'Liberation Sans', Arial, sans-serif" font-size="12.20" text-anchor="start" fill="#000" textLength="53.80" lengthAdjust="spacingAndGlyphs">22000000</text>
<text x="579.40" y="656.00" font-family="'Liberation Sans', Arial, sans-serif" font-size="12.20" text-anchor="start" fill="#000" textLength="53.80" lengthAdjust="spacingAndGlyphs">21000000</text>
<text x="579.40" y="709.50" font-family="'Liberation Sans', Arial, sans-serif" font-size="12.20" text-anchor="start" fill="#000" textLength="53.80" lengthAdjust="spacingAndGlyphs">20000000</text>
<text x="578.00" y="770.10" font-family="'Liberation Sans', Arial, sans-serif" font-size="12.20" text-anchor="start" fill="#000" textLength="53.80" lengthAdjust="spacingAndGlyphs">19000000</text>
<text transform="translate(684.20,634.10) rotate(-90)" font-family="'Liberation Sans', Arial, sans-serif" font-size="17.00" text-anchor="middle" fill="#000" textLength="46.60" lengthAdjust="spacingAndGlyphs">Seven</text>
<text x="0.20" y="455.10" font-family="'Liberation Sans', Arial, sans-serif" font-size="17.80" text-anchor="start" fill="#000">B</text>
<text x="136.10" y="476.90" font-family="'Liberation Sans', Arial, sans-serif" font-size="14.10" text-anchor="start" fill="#000" textLength="70.20" lengthAdjust="spacingAndGlyphs">preexisting</text>
<text x="334.30" y="476.90" font-family="'Liberation Sans', Arial, sans-serif" font-size="14.10" text-anchor="start" fill="#000" textLength="35.20" lengthAdjust="spacingAndGlyphs">alpha</text>
<text x="488.10" y="476.80" font-family="'Liberation Sans', Arial, sans-serif" font-size="14.10" text-anchor="start" fill="#000" textLength="53.30" lengthAdjust="spacingAndGlyphs">omicron</text>
</g>
</svg>
</body>
</html>
